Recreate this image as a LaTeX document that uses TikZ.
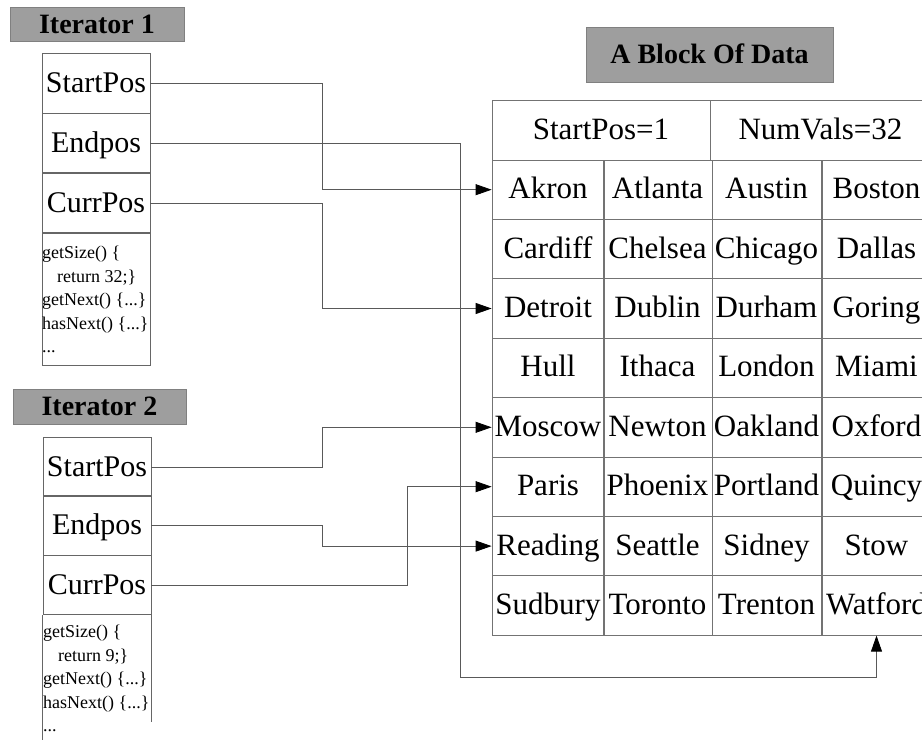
\documentclass[tikz,border=0pt]{standalone}
\usepackage{fontspec}
\setmainfont{Liberation Serif}
\usetikzlibrary{arrows.meta}
\begin{document}
\begin{tikzpicture}[x=1pt,y=-1pt,
  wire/.style={draw=black!65, line width=0.8pt},
  ptr/.style={wire, -{Triangle[length=16pt,width=11pt,fill=black,color=black]}},
  field/.style={draw=black!60, line width=0.8pt, minimum width=108pt,
    minimum height=59.5pt, inner sep=0pt, text height=21pt, text depth=3pt,
    font=\fontsize{30}{32}\selectfont},
  banner/.style={fill=black!38, draw=black!50, line width=0.6pt, inner sep=0pt,
    text height=18.5pt, text depth=0pt,
    font=\bfseries\fontsize{28}{30}\selectfont},
  cell/.style={draw=black!55, line width=0.8pt, inner sep=0pt,
    text height=21pt, text depth=3pt,
    minimum height=59.4pt, minimum width=109pt, font=\fontsize{31}{33}\selectfont},
  methods/.style={font=\fontsize{18}{23.5}\selectfont, align=left,
    inner sep=0pt, anchor=north west}]

\useasboundingbox (0,0) rectangle (922,744);

% ---------- Iterator 1 ----------
\node[banner, minimum width=174pt, minimum height=34pt] (t1) at (97,24) {Iterator 1};
\node[field] (i1s) at (96,83.5)  {StartPos};
\node[field] (i1e) at (96,143)   {Endpos};
\node[field] (i1c) at (96,203)   {CurrPos};
\node[draw=black!60, line width=0.8pt, minimum width=108pt, minimum height=132pt,
  inner sep=0pt] (i1box) at (96,299) {};
\node[methods] (i1m) at (42,246)
  {getSize() \{\\\hspace*{15pt}return 32;\}\\getNext() \{...\}\\hasNext() \{...\}\\...};

% ---------- Iterator 2 ----------
\node[banner, minimum width=173pt, minimum height=35pt] (t2) at (99.5,406.5) {Iterator 2};
\node[field] (i2s) at (97,467)   {StartPos};
\node[field] (i2e) at (97,525.5) {Endpos};
\node[field] (i2c) at (97,585)   {CurrPos};
\draw[draw=black!60, line width=0.8pt] (i2c.south west) -- ++(0,125);
\draw[draw=black!60, line width=0.8pt] (i2c.south east) -- ++(0,107);
\node[methods] (i2m) at (43,625)
  {getSize() \{\\\hspace*{15pt}return 9;\}\\getNext() \{...\}\\hasNext() \{...\}\\...};

% ---------- The data block ----------
\node[banner, minimum width=247pt, minimum height=55pt] (t3) at (709.5,54.5) {A Block Of Data};
\node[cell, minimum width=218pt, minimum height=60pt] (hs) at (601,130) {StartPos=1};
\node[cell, minimum width=221pt, minimum height=60pt] (hn) at (820.5,130) {NumVals=32};

\foreach \name/\a/\b/\c/\d [count=\r from 0] in {
  r0/Akron/Atlanta/Austin/Boston,
  r1/Cardiff/Chelsea/Chicago/Dallas,
  r2/Detroit/Dublin/Durham/Goring,
  r3/Hull/Ithaca/London/Miami,
  r4/Moscow/Newton/Oakland/Oxford,
  r5/Paris/Phoenix/Portland/Quincy,
  r6/Reading/Seattle/Sidney/Stow,
  r7/Sudbury/Toronto/Trenton/Watford}{
  \pgfmathsetmacro{\yc}{189.7+59.4*\r}
  \node[cell, minimum width=112pt] (\name-1) at (548,\yc) {\a};
  \node[cell] (\name-2) at (657.5,\yc) {\b};
  \node[cell] (\name-3) at (766.5,\yc) {\c};
  \node[cell] (\name-4) at (876.5,\yc) {\d};
}

% ---------- Pointers ----------
\coordinate (jogA) at (322,0);
\coordinate (jogB) at (407,0);
\coordinate (jogC) at (460,0);
\coordinate (low)  at (0,677);

\draw[ptr] (i1s.east) -| (jogA |- r0-1.west) -- (r0-1.west);
\draw[ptr] (i1c.east) -| (jogA |- r2-1.west) -- (r2-1.west);
\draw[ptr] (i1e.east) -| (jogC |- low) -| (r7-4.south);

\draw[ptr] (i2s.east) -| (jogA |- r4-1.west) -- (r4-1.west);
\draw[ptr] (i2e.east) -| (jogA |- r6-1.west) -- (r6-1.west);
\draw[ptr] (i2c.east) -| (jogB |- r5-1.west) -- (r5-1.west);

\end{tikzpicture}
\end{document}
